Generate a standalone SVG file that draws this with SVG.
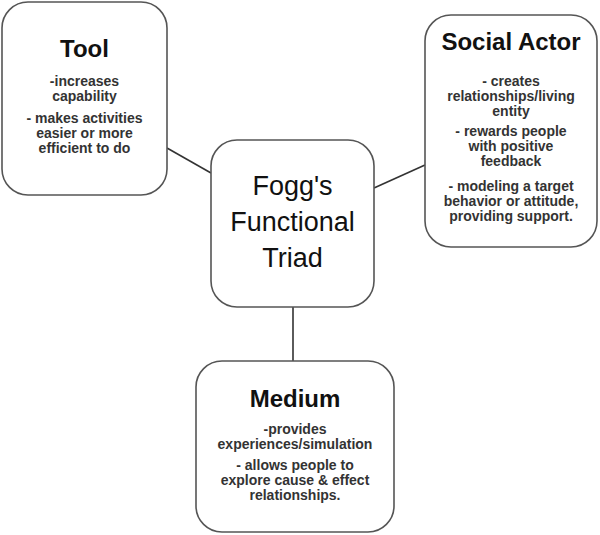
<svg xmlns="http://www.w3.org/2000/svg" width="600" height="535" viewBox="0 0 600 535">
<style>
.box{fill:#fff;stroke:#555;stroke-width:1.6}
.title{font-family:"Liberation Sans",Arial,sans-serif;font-weight:bold;font-size:24px;fill:#111;text-anchor:middle}
.body{font-family:"Liberation Sans",Arial,sans-serif;font-weight:bold;font-size:14px;fill:#333;text-anchor:middle}
.center{font-family:"Liberation Sans",Arial,sans-serif;font-size:27px;fill:#111;text-anchor:middle}
.conn{stroke:#333;stroke-width:1.6;fill:none}
</style>
<rect width="600" height="535" fill="#fff"/>
<g id="connectors">
<line class="conn" x1="167" y1="148" x2="211" y2="173"/>
<line class="conn" x1="374" y1="188" x2="425" y2="165"/>
<line class="conn" x1="293" y1="307" x2="293" y2="361"/>
</g>
<g id="tool">
<rect class="box" x="2" y="2" width="165" height="193" rx="26"/>
<text class="title" x="84.5" y="57" font-size="23">Tool</text>
<text class="body" x="84.5" y="86" font-size="13.5">-increases</text>
<text class="body" x="84.5" y="101" font-size="13.5">capability</text>
<text class="body" x="84.5" y="123" font-size="13.5">- makes activities</text>
<text class="body" x="84.5" y="138" font-size="13.5">easier or more</text>
<text class="body" x="84.5" y="153" font-size="13.5">efficient to do</text>
</g>
<g id="social-actor">
<rect class="box" x="425" y="15" width="172" height="232" rx="26"/>
<text class="title" x="511" y="50">Social Actor</text>
<text class="body" x="511" y="86">- creates</text>
<text class="body" x="511" y="101">relationships/living</text>
<text class="body" x="511" y="116">entity</text>
<text class="body" x="511" y="136">- rewards people</text>
<text class="body" x="511" y="151">with positive</text>
<text class="body" x="511" y="166">feedback</text>
<text class="body" x="511" y="191">- modeling a target</text>
<text class="body" x="511" y="206">behavior or attitude,</text>
<text class="body" x="511" y="221">providing support.</text>
</g>
<g id="center">
<rect class="box" x="211" y="140" width="163" height="167" rx="26"/>
<text class="center" x="292.5" y="195">Fogg's</text>
<text class="center" x="292.5" y="231">Functional</text>
<text class="center" x="292.5" y="267">Triad</text>
</g>
<g id="medium">
<rect class="box" x="196" y="361" width="198" height="171" rx="26"/>
<text class="title" x="295" y="407">Medium</text>
<text class="body" x="295" y="434">-provides</text>
<text class="body" x="295" y="449">experiences/simulation</text>
<text class="body" x="295" y="470">- allows people to</text>
<text class="body" x="295" y="485">explore cause &amp; effect</text>
<text class="body" x="295" y="500">relationships.</text>
</g>
</svg>
